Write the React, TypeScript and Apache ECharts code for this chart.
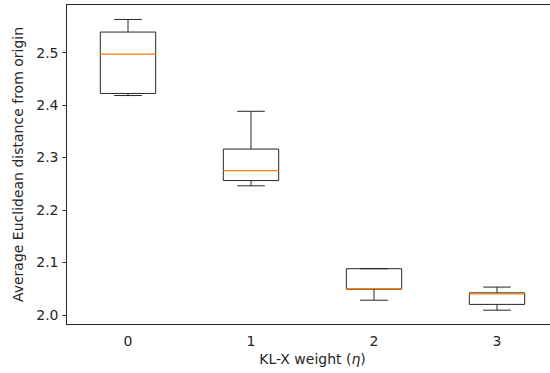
import React, { useEffect, useRef } from "react";
import * as echarts from "echarts";

const categories = ["0", "1", "2", "3"];
const whiskerLow = [2.418, 2.246, 2.028, 2.009];
const q1 = [2.422, 2.256, 2.049, 2.02];
const median = [2.497, 2.275, 2.05, 2.04];
const q3 = [2.539, 2.316, 2.088, 2.042];
const whiskerHigh = [2.563, 2.388, 2.088, 2.053];
const yTicks = [2.0, 2.1, 2.2, 2.3, 2.4, 2.5];

const FONT = "DejaVu Sans";
const LINE = "#262626";
const FS = 14;

export default function App() {
  const ref = useRef<HTMLDivElement>(null);
  useEffect(() => {
    if (!ref.current) return;
    const chart = echarts.init(ref.current, undefined, { renderer: "svg" });
    const data = categories.map((_, i) => [i, whiskerLow[i], q1[i], median[i], q3[i], whiskerHigh[i]]);
    const stroke = { stroke: LINE, lineWidth: 1, fill: "none" };
    chart.setOption({
      animation: false,
      backgroundColor: "#ffffff",
      grid: {
        left: 66.5,
        top: 4.5,
        width: 492,
        height: 320,
        outerBoundsMode: "none",
        containLabel: false,
        show: true,
        borderColor: LINE,
        borderWidth: 1,
        backgroundColor: "transparent",
      },
      xAxis: {
        type: "category",
        data: categories,
        boundaryGap: true,
        axisLine: { lineStyle: { color: LINE, width: 1 } },
        axisTick: { alignWithLabel: true, length: 4, lineStyle: { color: LINE } },
        axisLabel: { color: "#262626", fontFamily: FONT, fontSize: FS, margin: 9 },
        splitLine: { show: false },
        name: "{a|KL-X weight (}{i|η}{a|)}",
        nameLocation: "middle",
        nameGap: 27,
        nameTextStyle: {
          rich: {
            a: { fontFamily: FONT, fontSize: FS, color: "#262626" },
            i: { fontFamily: FONT, fontSize: FS, color: "#262626", fontStyle: "italic" },
          },
        },
      },
      yAxis: {
        type: "value",
        min: 1.9817,
        max: 2.5915,
        axisLine: { show: true, lineStyle: { color: LINE, width: 1 } },
        axisTick: { show: true, length: 4, lineStyle: { color: LINE }, customValues: yTicks },
        axisLabel: {
          color: "#262626",
          fontFamily: FONT,
          fontSize: FS,
          margin: 8,
          customValues: yTicks,
          formatter: (v: number) => v.toFixed(1),
        },
        splitLine: { show: false },
        name: "Average Euclidean distance from origin",
        nameLocation: "middle",
        nameGap: 37,
        nameTextStyle: { fontFamily: FONT, fontSize: FS, color: "#262626" },
      },
      series: [
        {
          type: "custom",
          data,
          encode: { x: 0, y: [1, 2, 3, 4, 5] },
          renderItem: (params: any, api: any) => {
            const x = api.value(0);
            const lo = api.coord([x, api.value(1)]);
            const b1 = api.coord([x, api.value(2)]);
            const md = api.coord([x, api.value(3)]);
            const b3 = api.coord([x, api.value(4)]);
            const hi = api.coord([x, api.value(5)]);
            const bw = api.size([1, 0])[0] * 0.45;
            const cx = lo[0];
            const cap = bw / 2;
            return {
              type: "group",
              children: [
                { type: "line", shape: { x1: cx, y1: hi[1], x2: cx, y2: b3[1] }, style: stroke },
                { type: "line", shape: { x1: cx, y1: b1[1], x2: cx, y2: lo[1] }, style: stroke },
                { type: "line", shape: { x1: cx - cap / 2, y1: hi[1], x2: cx + cap / 2, y2: hi[1] }, style: stroke },
                { type: "line", shape: { x1: cx - cap / 2, y1: lo[1], x2: cx + cap / 2, y2: lo[1] }, style: stroke },
                {
                  type: "rect",
                  shape: { x: cx - bw / 2, y: b3[1], width: bw, height: b1[1] - b3[1] },
                  style: stroke,
                },
                {
                  type: "line",
                  shape: { x1: cx - bw / 2, y1: md[1], x2: cx + bw / 2, y2: md[1] },
                  style: { stroke: "#ff7f0e", lineWidth: 1.2 },
                },
              ],
            };
          },
        },
      ],
    });
    return () => chart.dispose();
  }, []);
  return (
    <div
      ref={ref}
      style={{ position: "absolute", left: 0, top: 0, width: 550, height: 373 }}
    />
  );
}
